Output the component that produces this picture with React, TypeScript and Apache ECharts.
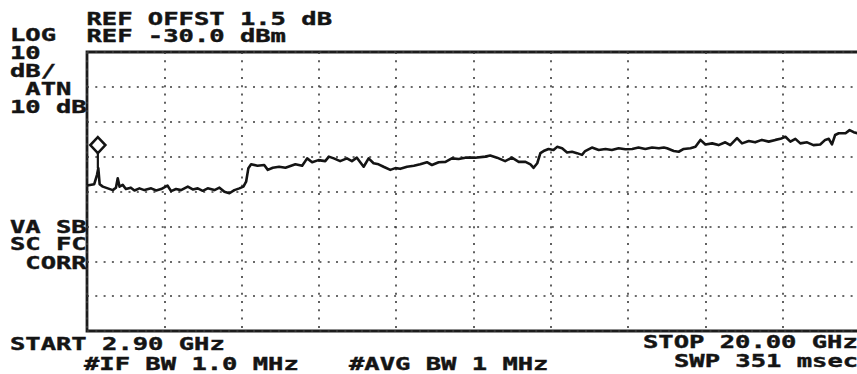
import React, { useEffect, useRef } from "react";
import * as echarts from "echarts";

// Spectrum analyser sweep: 2.90 GHz .. 20.00 GHz, ref -30 dBm, 10 dB/div
const START_GHZ = 2.9;
const STOP_GHZ = 20.0;
const REF_DBM = -30;
const BOTTOM_DBM = -110;
const DB_PER_DIV = 10;
const X_DIVISIONS = 10;

const FREQ_GHZ = [
  2.90, 3.06, 3.12, 3.15, 3.18, 3.25, 3.36, 3.47, 3.54, 3.58,
  3.62, 3.69, 3.76, 3.87, 3.95, 4.06, 4.17, 4.32, 4.43, 4.54,
  4.68, 4.76, 4.87, 4.98, 5.13, 5.24, 5.35, 5.46, 5.57, 5.72,
  5.83, 5.94, 6.05, 6.16, 6.27, 6.36, 6.42, 6.47, 6.53, 6.67,
  6.82, 6.90, 7.01, 7.15, 7.29, 7.51, 7.66, 7.77, 7.88, 8.02,
  8.17, 8.25, 8.36, 8.50, 8.65, 8.76, 8.87, 9.02, 9.13, 9.24,
  9.35, 9.46, 9.61, 9.72, 9.83, 9.98, 10.13, 10.27, 10.42, 10.53,
  10.68, 10.83, 10.97, 11.12, 11.27, 11.49, 11.71, 11.82, 11.97, 12.15,
  12.30, 12.45, 12.60, 12.71, 12.78, 12.86, 12.93, 13.00, 13.11, 13.22,
  13.30, 13.41, 13.52, 13.63, 13.74, 13.85, 13.92, 14.07, 14.22, 14.37,
  14.51, 14.66, 14.81, 14.96, 15.10, 15.25, 15.40, 15.55, 15.66, 15.73,
  15.88, 15.99, 16.10, 16.25, 16.36, 16.47, 16.58, 16.73, 16.87, 17.02,
  17.13, 17.28, 17.39, 17.54, 17.68, 17.83, 17.98, 18.13, 18.24, 18.35,
  18.46, 18.57, 18.68, 18.83, 18.97, 19.12, 19.23, 19.31, 19.38, 19.45,
  19.53, 19.68, 19.77, 19.86, 19.94, 20.00,
];

const LEVEL_DBM = [
  -68.3, -67.9, -65.3, -63.3, -67.9, -68.6, -69.1, -69.6, -68.9, -66.2,
  -68.6, -68.1, -69.3, -68.9, -69.7, -69.1, -69.6, -69.1, -69.7, -69.3,
  -68.3, -69.9, -69.3, -69.6, -68.6, -69.4, -69.1, -69.8, -69.1, -69.6,
  -68.9, -70.1, -70.5, -69.6, -69.1, -68.6, -67.2, -63.3, -62.2, -62.6,
  -62.4, -63.8, -63.2, -62.9, -63.2, -62.2, -62.6, -60.5, -61.6, -61.0,
  -61.3, -60.0, -60.5, -61.3, -60.5, -61.3, -60.3, -62.9, -60.5, -61.9,
  -62.2, -62.9, -63.8, -63.3, -63.5, -62.9, -62.6, -62.2, -61.6, -62.4,
  -61.6, -61.5, -60.5, -60.7, -60.3, -60.3, -60.0, -59.7, -60.3, -61.3,
  -60.3, -61.5, -61.5, -62.2, -63.2, -61.9, -59.0, -58.4, -57.8, -58.1,
  -57.2, -57.6, -58.8, -58.6, -59.0, -59.5, -58.4, -57.4, -58.1, -57.8,
  -58.1, -57.6, -57.9, -57.8, -57.4, -57.8, -57.4, -57.6, -57.4, -57.6,
  -58.4, -58.6, -57.8, -57.6, -57.2, -55.2, -56.5, -56.2, -56.7, -55.9,
  -56.7, -54.7, -56.2, -55.5, -55.9, -55.2, -55.7, -55.2, -54.9, -54.3,
  -55.7, -54.9, -56.2, -55.9, -56.7, -56.5, -55.2, -54.9, -56.5, -53.8,
  -53.3, -53.3, -52.4, -53.0, -53.3, -53.2,
];

// Marker: diamond above the spike, with its stem down to the trace peak
const MARKER_GHZ = 3.14;
const MARKER_TOP_DBM = -56.7;
const MARKER_PEAK_DBM = -63.3;

const HEADER_LINES = ["REF OFFST 1.5 dB", "REF -30.0 dBm"];
const LEFT_TOP_LINES = ["LOG", "10", "dB/", " ATN", "10 dB"];
const LEFT_BOTTOM_LINES = ["VA SB", "SC FC", " CORR"];
const FOOTER_LEFT = ["START 2.90 GHz", "#IF BW 1.0 MHz", "#AVG BW 1 MHz"];
const FOOTER_RIGHT = ["STOP 20.00 GHz", "SWP 351 msec"];

const FONT = "'DejaVu Sans Mono', 'Liberation Mono', monospace";
const INK = "#141414";

function txt(text: string, x: number, y: number) {
  return {
    type: "text",
    x,
    y,
    scaleX: 1.5,
    z: 10,
    style: {
      text,
      fontFamily: FONT,
      fontSize: 17,
      fontWeight: "bold",
      fill: INK,
      stroke: INK,
      lineWidth: 0.4,
      textVerticalAlign: "middle",
      verticalAlign: "middle",
      textAlign: "left",
    },
  };
}

export default function App() {
  const ref = useRef<HTMLDivElement>(null);

  useEffect(() => {
    if (!ref.current) return;
    const chart = echarts.init(ref.current, undefined, { renderer: "svg" });
    const n = Math.min(FREQ_GHZ.length, LEVEL_DBM.length);
    const trace = [];
    for (let i = 0; i < n; i++) trace.push([FREQ_GHZ[i], LEVEL_DBM[i]]);

    const pitch = 15.3;
    const col0 = 10;
    const graphics: any[] = [];
    HEADER_LINES.forEach((t, i) => graphics.push(txt(t, col0 + 5 * pitch, 19 + i * 17)));
    const leftTopY = [35, 53, 71, 89.5, 107.5];
    LEFT_TOP_LINES.forEach((t, i) => {
      const lead = t.length - t.trimStart().length;
      graphics.push(txt(t.trimStart(), col0 + lead * pitch, leftTopY[i]));
    });
    const leftBotY = [227, 244, 263];
    LEFT_BOTTOM_LINES.forEach((t, i) => {
      const lead = t.length - t.trimStart().length;
      graphics.push(txt(t.trimStart(), col0 + lead * pitch, leftBotY[i]));
    });
    graphics.push(txt(FOOTER_LEFT[0], col0, 344));
    graphics.push(txt(FOOTER_LEFT[1], 84, 364));
    graphics.push(txt(FOOTER_LEFT[2], 349, 364));
    graphics.push(txt(FOOTER_RIGHT[0], 643, 342));
    graphics.push(txt(FOOTER_RIGHT[1], 674, 361));

    const dotted = { type: [2, 6.3], width: 1.6, color: "#3a3a3a" };

    chart.setOption({
      animation: false,
      backgroundColor: "#ffffff",
      grid: {
        left: 87,
        top: 52,
        width: 773,
        height: 279,
        show: true,
        borderColor: "#1c1c1c",
        borderWidth: 2.8,
        backgroundColor: "transparent",
      },
      xAxis: [
        {
          type: "value",
          min: START_GHZ,
          max: STOP_GHZ,
          show: false,
          splitLine: { show: false },
        },
        {
          type: "value",
          min: 0,
          max: X_DIVISIONS,
          interval: 1,
          position: "top",
          axisLine: { show: false },
          axisTick: { show: false },
          axisLabel: { show: false },
          splitLine: { show: true, lineStyle: dotted },
        },
      ],
      yAxis: {
        type: "value",
        min: BOTTOM_DBM,
        max: REF_DBM,
        interval: DB_PER_DIV,
        axisLine: { show: false },
        axisTick: { show: false },
        axisLabel: { show: false },
        splitLine: { show: true, lineStyle: dotted },
      },
      series: [
        {
          type: "line",
          xAxisIndex: 0,
          data: trace,
          showSymbol: false,
          symbol: "none",
          lineStyle: { color: INK, width: 2.6, join: "round" },
          z: 3,
        },
        {
          type: "line",
          xAxisIndex: 0,
          data: [
            [MARKER_GHZ, MARKER_TOP_DBM],
            [MARKER_GHZ, MARKER_PEAK_DBM],
          ],
          symbol: "none",
          lineStyle: { color: INK, width: 2.2 },
          z: 3,
        },
        {
          type: "scatter",
          xAxisIndex: 0,
          data: [[MARKER_GHZ, MARKER_TOP_DBM]],
          symbol: "diamond",
          symbolSize: [15, 16],
          itemStyle: { color: "#ffffff", borderColor: INK, borderWidth: 2.6, opacity: 1 },
          z: 4,
        },
      ],
      graphic: graphics,
    });
    return () => chart.dispose();
  }, []);

  return (
    <div
      style={{
        position: "fixed",
        left: 0,
        top: 0,
        width: 857,
        height: 374,
        overflow: "hidden",
        background: "#ffffff",
      }}
    >
      <div ref={ref} style={{ width: 880, height: 374 }} />
    </div>
  );
}
